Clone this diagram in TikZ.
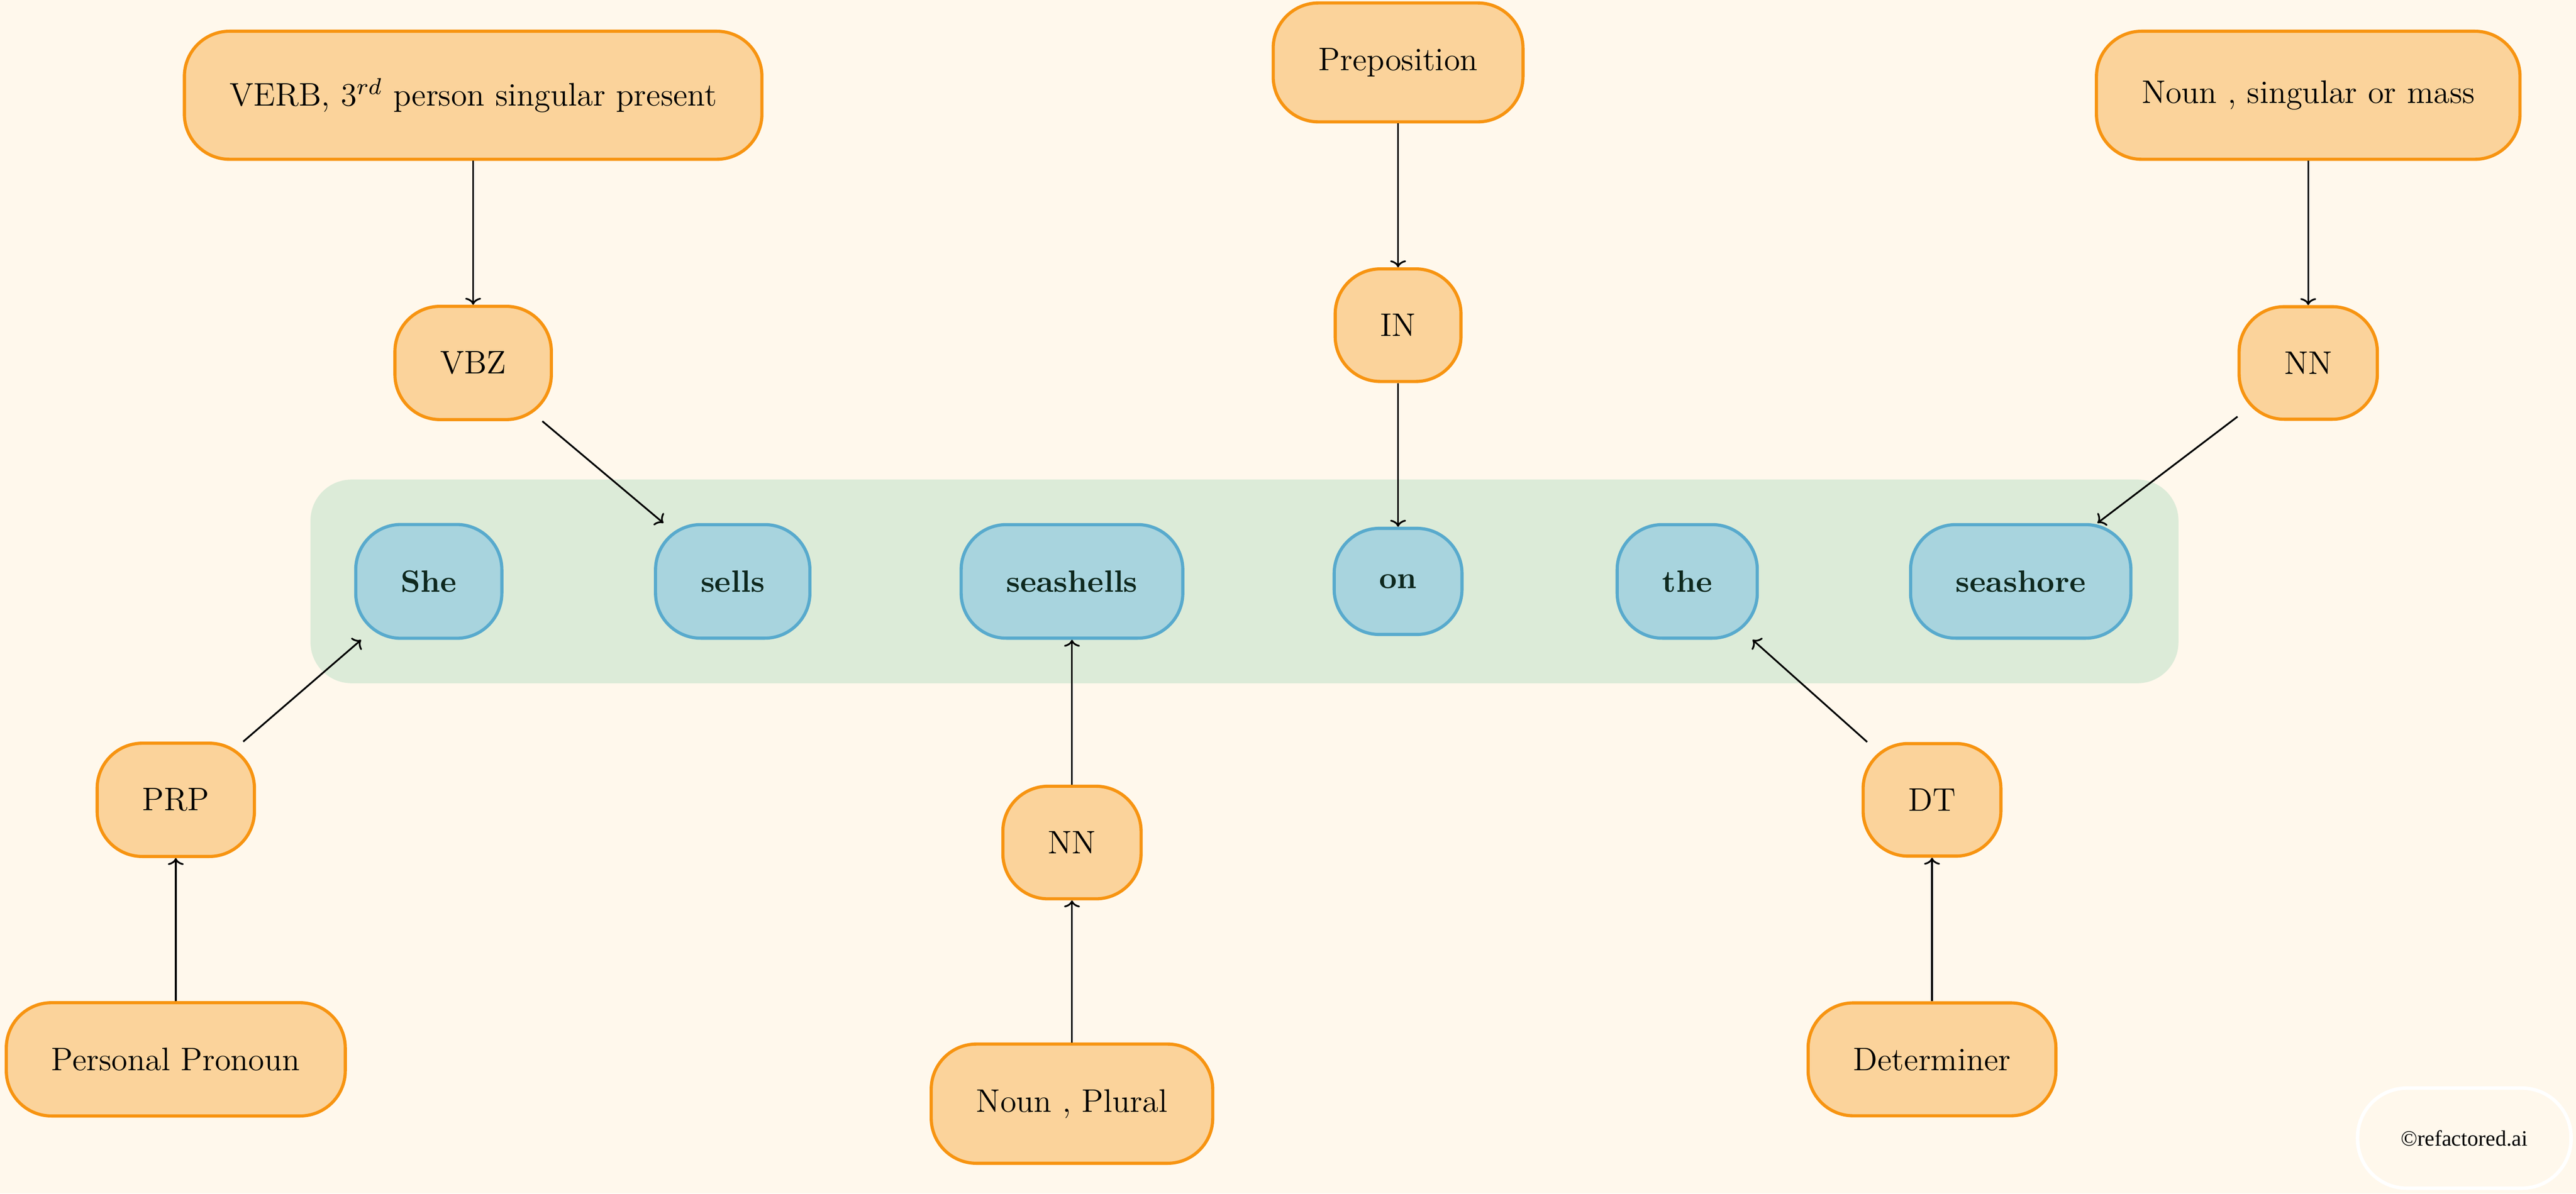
\documentclass[tikz,border=0pt]{standalone}
\usepackage{fontspec}
\newfontfamily\wmfont{Liberation Serif}
\usetikzlibrary{arrows.meta}
\definecolor{bgcol}{RGB}{255,248,236}
\definecolor{bandcol}{RGB}{220,235,216}
\definecolor{wordfill}{RGB}{168,212,222}
\definecolor{worddraw}{RGB}{88,170,205}
\definecolor{tagfill}{RGB}{251,211,155}
\definecolor{tagdraw}{RGB}{247,148,17}
\definecolor{wordtext}{RGB}{14,40,30}
\begin{document}
\begin{tikzpicture}[x=0.02cm,y=-0.02cm,
  wordbox/.style={rectangle, rounded corners=0.55cm, fill=wordfill, draw=worddraw, line width=1.1pt,
    inner xsep=0.55cm, inner ysep=0.56cm, text=wordtext, font=\fontsize{10.7}{12}\selectfont\bfseries},
  tagbox/.style={rectangle, rounded corners=0.55cm, fill=tagfill, draw=tagdraw, line width=1.1pt,
    inner xsep=0.55cm, inner ysep=0.55cm, font=\fontsize{11.3}{13}\selectfont},
  link/.style={draw=black, line width=0.6pt, -{To[length=2.4pt,width=5.5pt]}}]
  % background and bounding box
  \fill[bgcol] (0,0) rectangle (1568,726.7);
  \useasboundingbox (0,0) rectangle (1568,726.7);
  % green band
  \fill[bandcol, rounded corners=0.5cm] (189,292) rectangle (1326,416);

  % word nodes
  \node[wordbox] (she) at (261,354) {She};
  \node[wordbox] (sells) at (446,354) {sells};
  \node[wordbox] (seashells) at (652.5,354) {seashells};
  \node[wordbox] (on) at (851,354) {on};
  \node[wordbox] (the) at (1027,354) {the};
  \node[wordbox] (seashore) at (1230,354) {seashore};

  % tag nodes
  \node[tagbox] (vbz) at (288,221) {VBZ};
  \node[tagbox] (in) at (851,198) {IN};
  \node[tagbox] (nn1) at (1405,221) {NN};
  \node[tagbox] (prp) at (107,487) {PRP};
  \node[tagbox] (nn2) at (652.5,513) {NN};
  \node[tagbox] (dt) at (1176,487) {DT};

  % description nodes
  \node[tagbox, minimum height=1.56cm] (verb) at (288,58) {VERB, 3$^{rd}$ person singular present};
  \node[tagbox] (prep) at (851,38) {Preposition};
  \node[tagbox, minimum height=1.56cm] (nounsing) at (1405,58) {Noun , singular or mass};
  \node[tagbox] (pers) at (107,645) {Personal Pronoun};
  \node[tagbox] (nounpl) at (652.5,672) {Noun , Plural};
  \node[tagbox] (det) at (1176,645) {Determiner};

  % watermark
  \node[rectangle, rounded corners=0.6cm, draw=white, line width=1.2pt, fill=bgcol,
    minimum width=2.6cm, minimum height=1.22cm, font=\wmfont\fontsize{7.6}{9}\selectfont] (wm) at (1500,693) {\textcopyright refactored.ai};

  % connectors
  \draw[link] (verb) -- (vbz);
  \draw[link] (vbz) -- (sells);
  \draw[link] (prep) -- (in);
  \draw[link] (in) -- (on);
  \draw[link] (nounsing) -- (nn1);
  \draw[link] (nn1) -- (seashore);
  \draw[link] (pers) -- (prp);
  \draw[link] (prp) -- (she);
  \draw[link] (nounpl) -- (nn2);
  \draw[link] (nn2) -- (seashells);
  \draw[link] (det) -- (dt);
  \draw[link] (dt) -- (the);
\end{tikzpicture}
\end{document}
